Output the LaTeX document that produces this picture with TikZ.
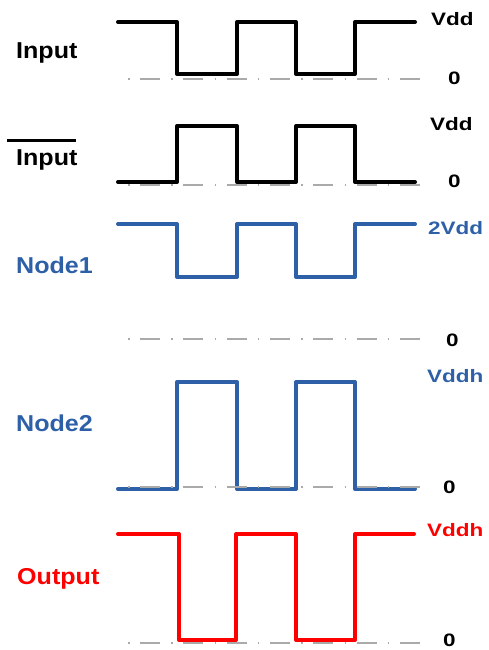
\documentclass[tikz,border=0pt]{standalone}
\usepackage{fontspec}
\setmainfont{Liberation Sans}
\newfontfamily\namefont[FakeStretch=1.09]{Liberation Sans}
\newfontfamily\levelfont[FakeStretch=1.25]{Liberation Sans}
\usepackage{xcolor}
\definecolor{sigblue}{RGB}{46,96,168}
\definecolor{zerogray}{RGB}{170,170,170}

\begin{document}
\begin{tikzpicture}[
  x=1pt, y=-1pt,
  wave/.style={line width=4pt, line join=round, line cap=round},
  zeroline/.style={zerogray, line width=2pt, dash pattern=on 1.5pt off 10.5pt on 20pt off 11.3pt},
  sig/.style={anchor=base west, inner sep=0pt, font=\namefont\fontsize{23}{23}\bfseries\selectfont},
  lvl/.style={anchor=base west, inner sep=0pt, font=\levelfont\fontsize{18}{18}\bfseries\selectfont},
  zerolbl/.style={anchor=base west, inner sep=0pt, font=\levelfont\fontsize{18}{18}\bfseries\selectfont}
]
\useasboundingbox (0,0) rectangle (489,650);

% waveforms
\draw[wave] (118,22) -| (177,74) -| (237,22) -| (296,74) -| (355,22) -- (415,22);
\draw[wave] (118,182) -| (177,126) -| (237,182) -| (296,126) -| (355,182) -- (415,182);
\draw[wave, sigblue] (118,224) -| (177,277) -| (237,224) -| (296,277) -| (355,224) -- (415,224);
\draw[wave, sigblue] (118,489) -| (177,382) -| (237,489) -| (296,382) -| (355,489) -- (415,489);
\draw[wave, red] (118,534) -| (179,640) -| (236,534) -| (296,640) -| (355,534) -- (414,534);

% zero levels
\draw[zeroline] (128,79) -- (420,79);
\draw[zeroline] (128,185) -- (420,185);
\draw[zeroline] (128,339) -- (420,339);
\draw[zeroline] (128,487) -- (420,487);
\draw[zeroline] (128,643) -- (420,643);

% signal names
\node[sig] (in) at (16,59) {Input};
\node[sig] (inb) at (16,165) {Input};
\draw[line width=3pt] ([xshift=-9pt, yshift=8.5pt]inb.north west) -- ([xshift=-2pt, yshift=8.5pt]inb.north east);
\node[sig, sigblue] (nodeA) at (16,273) {Node1};
\node[sig, sigblue] (nodeB) at (16,431) {Node2};
\node[sig, red] (out) at (17,584) {Output};

% levels
\node[lvl] (invdd) at (431,26) {Vdd};
\node[zerolbl] (inzero) at (448,85) {0};
\node[lvl] (inbvdd) at (430,130) {Vdd};
\node[zerolbl] (inbzero) at (448,187) {0};
\node[lvl, sigblue] (nAvdd) at (428,234) {2Vdd};
\node[zerolbl] (nAzero) at (446,346) {0};
\node[lvl, sigblue] (nBvddh) at (427,382) {Vddh};
\node[zerolbl] (nBzero) at (443,493) {0};
\node[lvl, red] (outvddh) at (427,536) {Vddh};
\node[zerolbl] (outzero) at (443,646) {0};
\end{tikzpicture}
\end{document}
